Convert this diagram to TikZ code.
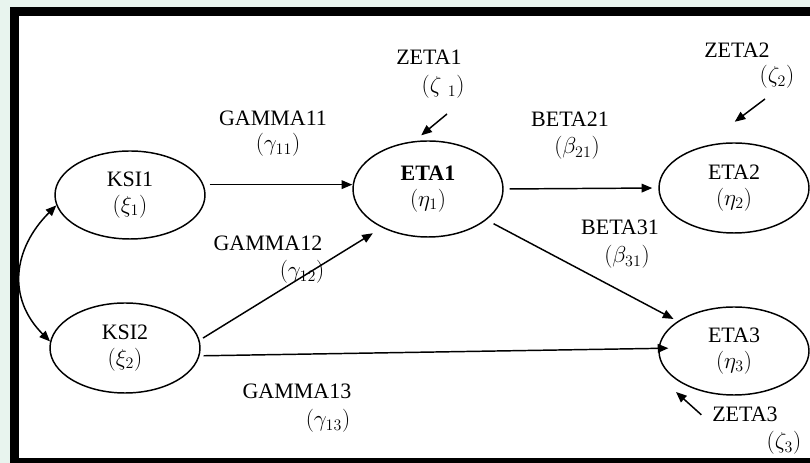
\documentclass[tikz,border=0pt]{standalone}
\usepackage{amsmath,amssymb}
\usepackage{fontspec}
\setmainfont{Liberation Serif}
\usetikzlibrary{arrows.meta,shapes.geometric}

\begin{document}
\begin{tikzpicture}[x=0.75pt,y=0.75pt]
      \tikzstyle{every node}+=[font=\fontsize{16.5}{19.5}\selectfont]
      \tikzstyle{latent}=[draw=black,line width=1.1pt,ellipse,minimum width=112.5pt,minimum height=66pt,inner sep=0pt,align=center]
      \tikzstyle{lbl}=[anchor=base,inner sep=0pt]
      \tikzstyle{arr}=[black,line width=1.1pt,-{Triangle[length=8pt,width=6.5pt]}]
      \tikzstyle{arrboth}=[black,line width=1.1pt,{Triangle[length=8pt,width=6.5pt]}-{Triangle[length=8pt,width=6.5pt]}]
      \useasboundingbox (0,0) rectangle (810,463);
      \fill [fill={rgb,255:red,232;green,244;blue,238}] (0,0) rectangle (810,463);
      \fill [black] (10,0) rectangle (810,456);
      \fill [white] (19,5) rectangle (810,447);
      \node [latent] (ksi1) at (130,268) {KSI1\\$(\xi_1)$};
      \node [latent,minimum height=67.5pt] (ksi2) at (125,115) {KSI2\\$(\xi_2)$};
      \node [latent,minimum height=72pt] (eta1) at (428,274) {\textbf{ETA1}\\$(\eta_1)$};
      \node [latent,minimum height=67.5pt] (eta2) at (734,275) {ETA2\\$(\eta_2)$};
      \node [latent] (eta3) at (734,112) {ETA3\\$(\eta_3)$};
      \node [lbl] (zeta1) at (429,398) {ZETA1};
      \node [lbl] (zeta1v) at (443,370) {$(\zeta\;{}_1)$};
      \node [lbl] (zeta2) at (737,405) {ZETA2};
      \node [lbl] (zeta2v) at (777,380) {$(\zeta_2)$};
      \node [lbl] (zeta3) at (745,41) {ZETA3};
      \node [lbl] (zeta3v) at (784,14) {$(\zeta_3)$};
      \node [lbl] (gamma11) at (273,337) {GAMMA11};
      \node [lbl] (gamma11v) at (278,312) {$(\gamma_{11})$};
      \node [lbl] (gamma12) at (268,212) {GAMMA12};
      \node [lbl] (gamma12v) at (302,185) {$(\gamma_{12})$};
      \node [lbl] (gamma13) at (297,64) {GAMMA13};
      \node [lbl] (gamma13v) at (328,36) {$(\gamma_{13})$};
      \node [lbl] (beta21) at (570,336) {BETA21};
      \node [lbl] (beta21v) at (577,309) {$(\beta_{21})$};
      \node [lbl] (beta31) at (620,228) {BETA31};
      \node [lbl] (beta31v) at (627,200) {$(\beta_{31})$};
      \coordinate (z1s) at (447,349);
      \coordinate (z2s) at (765,364);
      \coordinate (z3t) at (676,71);
      \draw [arr,shorten <=4.5pt] (ksi1.8) -- (ksi1.8 -| eta1.west);
      \draw [arr,shorten <=3pt,shorten >=8pt] (ksi2.6) -- (eta1.220);
      \draw [arr,shorten <=3pt,shorten >=-7.5pt] (ksi2.-6) -- (eta3.178);
      \draw [arr,shorten <=4.5pt,shorten >=4.5pt] (eta1.east) -- (eta2.west);
      \draw [arr,shorten <=6pt,shorten >=3.5pt] (eta1) -- (eta3);
      \draw [arrboth] (ksi1.188) to[out=225,in=135,looseness=1.15] (ksi2.175);
      \draw [arr,shorten >=6.75pt] (z1s) -- (eta1.106);
      \draw [arr,shorten >=31pt] (z2s) -- (eta2.128);
      \draw [arr] ([xshift=-8pt]zeta3.west) -- (z3t);
\end{tikzpicture}
\end{document}
